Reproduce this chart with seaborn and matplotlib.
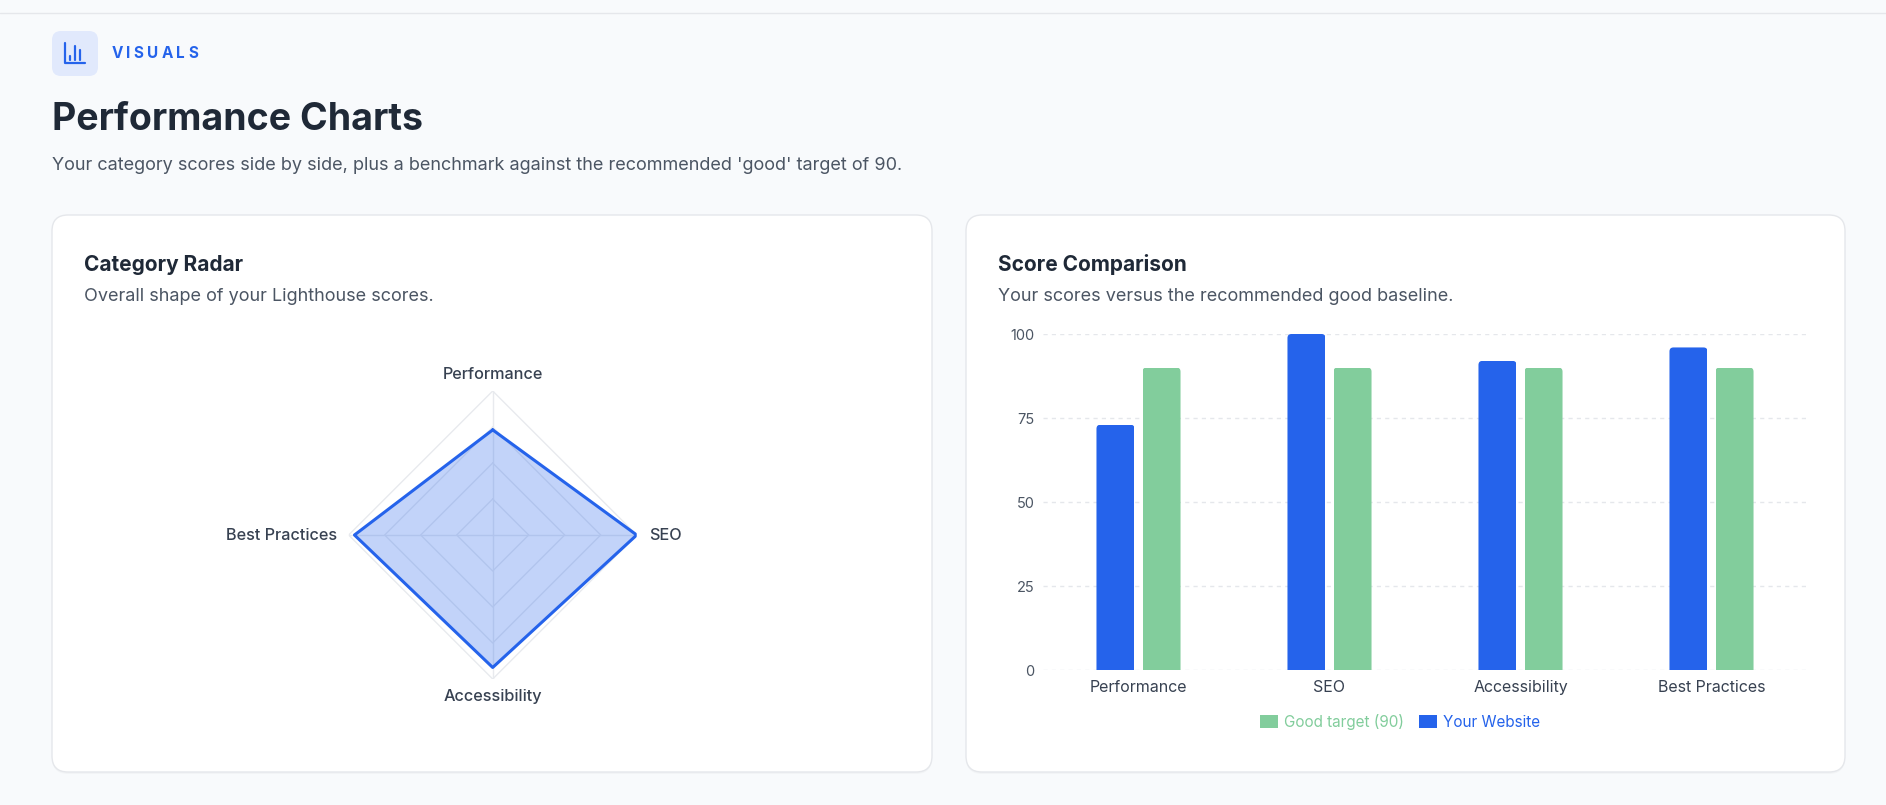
import numpy as np
import pandas as pd
import matplotlib
matplotlib.use("Agg")
import matplotlib.pyplot as plt
from matplotlib.patches import FancyBboxPatch
import seaborn as sns

# ---------------- data ----------------
categories = ["Performance", "SEO", "Accessibility", "Best Practices"]
your_scores = [73, 100, 92, 96]
good_target = [90, 90, 90, 90]
series_names = ["Your Website", "Good target (90)"]
y_ticks = [0, 25, 50, 75, 100]
radar_rings = [25, 50, 75, 100]

# ---------------- style ----------------
sns.set_theme(style="white")
plt.rcParams['font.family'] = ['Inter', 'DejaVu Sans']

W, H = 1886, 805
BG = "#F8FAFC"
BLUE = "#2563EB"
GREEN = "#82CD9C"
DARK = "#1F2937"
MUTED = "#4B5563"
LABEL = "#374151"

fig = plt.figure(figsize=(W / 100, H / 100), dpi=100, facecolor=BG)

# pixel-space background axes
bg = fig.add_axes([0, 0, 1, 1])
bg.set_xlim(0, W)
bg.set_ylim(H, 0)
bg.axis("off")
bg.set_facecolor(BG)

# top border line
bg.plot([0, W], [13, 13], color="#E5E7EB", lw=1)

# icon
bg.add_patch(FancyBboxPatch((52, 31), 46, 45, boxstyle="round,pad=0,rounding_size=9",
                            fc="#E1E9FC", ec="none"))
bg.plot([65, 65, 85], [43, 63, 63], color=BLUE, lw=1.6, solid_capstyle="round")
for bx, top in [(70, 56), (75, 46), (80, 50)]:
    bg.plot([bx, bx], [top, 60], color=BLUE, lw=1.6, solid_capstyle="round")

# "VISUALS" with letter spacing
x0 = 111.5
for ch in "VISUALS":
    bg.text(x0, 58, ch, fontsize=11, fontweight="bold", color=BLUE, va="baseline", ha="left")
    x0 += {"V": 14.5, "I": 7.5, "S": 13.5, "U": 14.5, "A": 14.5, "L": 12.5}.get(ch, 12)

bg.text(52, 130, "Performance Charts", fontsize=27, fontweight="bold", color=DARK, va="baseline")
bg.text(52, 170.5, "Your category scores side by side, plus a benchmark against the recommended 'good' target of 90.",
        fontsize=13, color=MUTED, va="baseline")

# cards
for (cx0, cx1) in [(52, 932), (966, 1845)]:
    bg.add_patch(FancyBboxPatch((cx0, 217), cx1 - cx0, 557, boxstyle="round,pad=0,rounding_size=16",
                                fc="#000000", ec="none", alpha=0.025))
    bg.add_patch(FancyBboxPatch((cx0, 215), cx1 - cx0, 557, boxstyle="round,pad=0,rounding_size=16",
                                fc="white", ec="#E5E7EB", lw=1))

bg.text(84, 270.5, "Category Radar", fontsize=15, fontweight="bold", color=DARK, va="baseline")
bg.text(84, 300.5, "Overall shape of your Lighthouse scores.", fontsize=13, color=MUTED, va="baseline")
bg.text(998, 270.5, "Score Comparison", fontsize=15, fontweight="bold", color=DARK, va="baseline")
bg.text(998, 300.5, "Your scores versus the recommended good baseline.", fontsize=13, color=MUTED, va="baseline")

# ---------------- radar ----------------
cx, cy, R = 492.7, 535, 144
rax = fig.add_axes([(cx - R) / W, 1 - (cy + R) / H, 2 * R / W, 2 * R / H], projection="polar")
rax.set_facecolor("none")
rax.set_theta_offset(np.pi / 2)
rax.set_theta_direction(-1)
rax.set_ylim(0, 100)
rax.grid(False)
rax.spines["polar"].set_visible(False)
rax.set_xticks([])
rax.set_yticks([])

n = len(categories)
angles = [i * 2 * np.pi / n for i in range(n)]
closed_angles = angles + [2 * np.pi]

for ring in radar_rings:
    rax.plot(closed_angles, [ring] * (n + 1), color="#E8EAEE", lw=1, zorder=1)
for a in angles:
    rax.plot([a, a], [0, 100], color="#E8EAEE", lw=1, zorder=1)

radar_df = pd.DataFrame({"theta": closed_angles, "score": your_scores + your_scores[:1]})
rax.fill(radar_df["theta"], radar_df["score"], color=BLUE, alpha=0.28, lw=0, zorder=2)
sns.lineplot(data=radar_df, x="theta", y="score", sort=False, estimator=None, ax=rax,
             color=BLUE, lw=2.2, zorder=3)
rax.set_xlabel("")
rax.set_ylabel("")
rax.set_ylim(0, 100)

offsets = {0: (0, 17, "center", "center"), 1: (12, 0, "left", "center"),
           2: (0, -17, "center", "center"), 3: (-12, 0, "right", "center")}
for i, (a, cat) in enumerate(zip(angles, categories)):
    dx, dy, ha, va = offsets[i]
    rax.annotate(cat, xy=(a, 100), xytext=(dx, dy), textcoords="offset pixels",
                 ha=ha, va=va, fontsize=11.7, fontweight=500, color=LABEL, annotation_clip=False)

# ---------------- bars ----------------
bar_df = pd.DataFrame({
    "category": categories * 2,
    "series": [series_names[0]] * n + [series_names[1]] * n,
    "score": your_scores + good_target,
})
bax = fig.add_axes([1043 / W, 1 - 670 / H, 764 / W, 336 / H])
bax.set_facecolor("none")
sns.barplot(data=bar_df, x="category", y="score", hue="series", hue_order=series_names,
            palette={series_names[0]: BLUE, series_names[1]: GREEN},
            width=0.482, gap=0.174, ax=bax, saturation=1, legend=True)
handles, labels = bax.get_legend_handles_labels()
if bax.get_legend() is not None:
    bax.get_legend().remove()

bax.set_ylim(0, 100)
bax.set_xlim(-0.5, n - 0.5)
bax.set_yticks(y_ticks)
bax.set_yticklabels([str(v) for v in y_ticks])
bax.set_xlabel("")
bax.set_ylabel("")
bax.tick_params(axis="y", length=0, pad=6, labelsize=10.5, labelcolor=MUTED)
bax.tick_params(axis="x", length=0, pad=7, labelsize=11.5, labelcolor=LABEL)
for s in bax.spines.values():
    s.set_visible(False)
bax.set_axisbelow(True)
bax.yaxis.grid(True, color="#E5E7EB", lw=1, ls=(0, (3, 3)))
bax.xaxis.grid(False)

# rounded bar tops (clip each bar to a rounded box that extends below the base)
px_per_x = 764 / n
px_per_y = 336 / 100
rx = 4 / px_per_x
aspect = px_per_x / px_per_y
for p in list(bax.patches):
    if not hasattr(p, "get_height") or p.get_height() <= 0:
        continue
    x, y, w, h = p.get_x(), p.get_y(), p.get_width(), p.get_height()
    clip = FancyBboxPatch((x, y - 10), w, h + 10, boxstyle=f"round,pad=0,rounding_size={rx}",
                          mutation_aspect=aspect, transform=bax.transData)
    p.set_clip_path(clip)
    p.set_edgecolor("none")

# legend (Good target first)
order = [1, 0]
leg = fig.legend([handles[i] for i in order], [labels[i] for i in order],
                 loc="center", bbox_to_anchor=(1400 / W, 1 - 722 / H), ncol=2, frameon=False,
                 fontsize=11, handlelength=1.15, handleheight=0.9, handletextpad=0.4,
                 columnspacing=1.0)
for txt, col in zip(leg.get_texts(), [GREEN, BLUE]):
    txt.set_color(col)
for hnd in leg.legend_handles:
    hnd.set_edgecolor("none")

fig.savefig("out.png", dpi=100, facecolor=BG)
